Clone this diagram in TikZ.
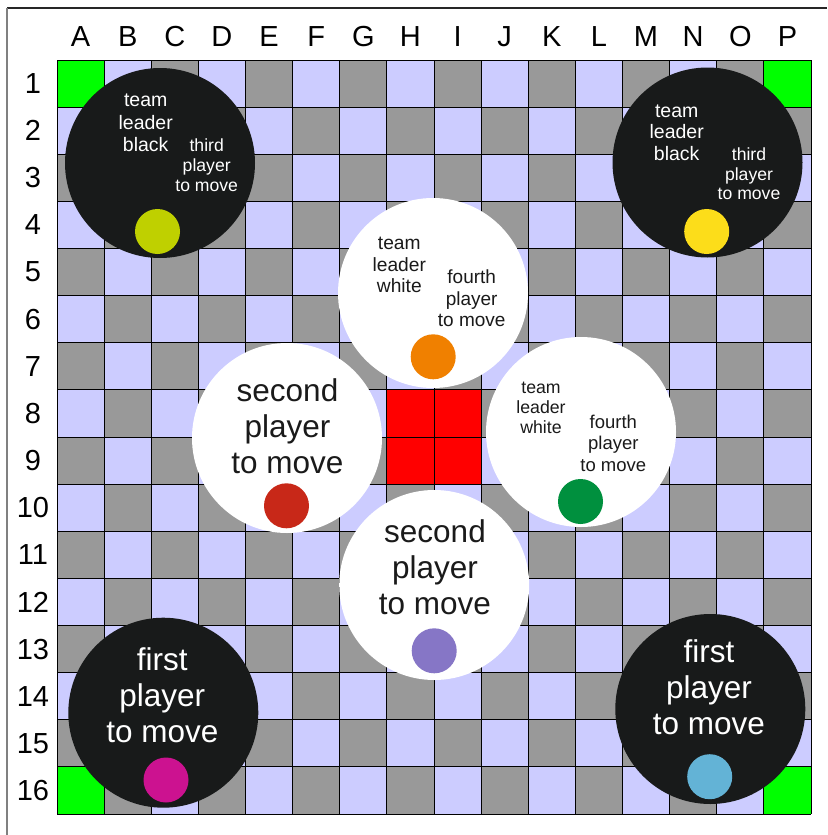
\documentclass[tikz,border=0pt]{standalone}
\usepackage{fontspec}
\setmainfont{Liberation Sans}
\definecolor{lav}{HTML}{CCCCFF}
\definecolor{gry}{HTML}{999999}
\definecolor{grn}{HTML}{00FF00}
\definecolor{redc}{HTML}{FF0000}
\definecolor{blk}{HTML}{181A1A}
\definecolor{txtdark}{HTML}{1A1A1A}
\definecolor{dotlime}{HTML}{BFD000}
\definecolor{dotyellow}{HTML}{FCDD1A}
\definecolor{dotmagenta}{HTML}{CC1290}
\definecolor{dotblue}{HTML}{63B3D6}
\definecolor{dotorange}{HTML}{F08000}
\definecolor{dotred}{HTML}{C82818}
\definecolor{dotgreen}{HTML}{00903E}
\definecolor{dotpurple}{HTML}{8676C6}
\tikzset{
  gridline/.style={draw=black, line width=0.9pt},
  lbl/.style={font=\fontsize{29}{33}\selectfont, text=black, inner sep=0pt},
  bigblack/.style={circle, fill=blk, minimum size=190pt, inner sep=0pt},
  bigwhite/.style={circle, fill=white, minimum size=190pt, inner sep=0pt},
  dot/.style={circle, minimum size=45pt, inner sep=0pt},
  wtext/.style={text=white, align=center, inner sep=0pt},
  dtext/.style={text=txtdark, align=center, inner sep=0pt},
  bigtext/.style={font=\fontsize{31.5}{36}\selectfont},
}
\begin{document}
\begin{tikzpicture}[x=1pt,y=-1pt]
\useasboundingbox (0,0) rectangle (827,835);
\fill[white] (0,0) rectangle (827,835);
\draw[color=black!85, line width=1.3pt] (7,8) -- (827,8);
\draw[color=black!50, line width=1.6pt] (7,8) -- (7,835);
% board squares
\foreach \i in {0,...,15}{\foreach \j in {0,...,15}{
  \ifodd\numexpr\i+\j\relax\def\cc{lav}\else\def\cc{gry}\fi
  \fill[\cc] (57+\i*47.125, 60+\j*47.125) rectangle ++(47.125,47.125);
}}
% corners
\fill[grn] (57,60) rectangle ++(47.125,47.125);
\fill[grn] (57+15*47.125,60) rectangle ++(47.125,47.125);
\fill[grn] (57,60+15*47.125) rectangle ++(47.125,47.125);
\fill[grn] (57+15*47.125,60+15*47.125) rectangle ++(47.125,47.125);
% centre
\fill[redc] (57+7*47.125,60+7*47.125) rectangle ++(94.25,94.25);
% grid lines
\foreach \k in {0,...,16}{
  \draw[gridline] (57+\k*47.125,60) -- ++(0,754);
  \draw[gridline] (57,60+\k*47.125) -- ++(754,0);
}
% column labels
\foreach \l [count=\n from 0] in {A,B,C,D,E,F,G,H,I,J,K,L,M,N,O,P}{
  \node[lbl] (col\l) at (80.56+\n*47.125, 37) {\l};
}
% row labels
\foreach \r in {1,...,16}{
  \node[lbl] (row\r) at (33, 60+\r*47.125-23.56) {\r};
}
% big circles
\node[bigblack] (tl) at (160,163) {};
\node[bigblack] (tr) at (707.5,162.5) {};
\node[bigblack] (bl) at (163.3,712.7) {};
\node[bigblack] (br) at (710.3,709) {};
\node[bigwhite] (tc) at (433,293) {};
\node[bigwhite] (lm) at (287,438) {};
\node[bigwhite] (rm) at (581,432) {};
\node[bigwhite] (bc) at (434.2,585) {};
% dots
\node[dot, fill=dotlime] (dtl) at (157.5,231.5) {};
\node[dot, fill=dotyellow] (dtr) at (706.7,231.5) {};
\node[dot, fill=dotmagenta] (dbl) at (166,780) {};
\node[dot, fill=dotblue] (dbr) at (709.7,776.7) {};
\node[dot, fill=dotorange] (dtc) at (433.2,356.8) {};
\node[dot, fill=dotred] (dlm) at (286.5,505.8) {};
\node[dot, fill=dotgreen] (drm) at (580.5,501.5) {};
\node[dot, fill=dotpurple] (dbc) at (434.2,650.8) {};
% texts
\node[wtext, font=\fontsize{19.5}{22.3}\selectfont] (tla) at (145.7,123) {team\\leader\\black};
\node[wtext, font=\fontsize{17.6}{20}\selectfont] (tlb) at (206.7,165.7) {third\\player\\to move};
\node[wtext, font=\fontsize{19.5}{21.8}\selectfont] (tra) at (676.7,132.7) {team\\leader\\black};
\node[wtext, font=\fontsize{17.6}{19.7}\selectfont] (trb) at (749,174) {third\\player\\to move};
\node[dtext, font=\fontsize{19.2}{21.5}\selectfont] (tca) at (399.3,265) {team\\leader\\white};
\node[dtext, font=\fontsize{19}{21.5}\selectfont] (tcb) at (471.7,298.3) {fourth\\player\\to move};
\node[dtext, font=\fontsize{17.7}{20}\selectfont] (rma) at (541,407.7) {team\\leader\\white};
\node[dtext, font=\fontsize{18.5}{21.2}\selectfont] (rmb) at (613.3,443.3) {fourth\\player\\to move};
\node[dtext, bigtext] (lmt) at (287.5,426.7) {second\\player\\to move};
\node[dtext, bigtext] (bct) at (435,567.3) {second\\player\\to move};
\node[wtext, bigtext] (blt) at (162.3,695) {first\\player\\to move};
\node[wtext, bigtext] (brt) at (709,687.3) {first\\player\\to move};
\end{tikzpicture}
\end{document}
